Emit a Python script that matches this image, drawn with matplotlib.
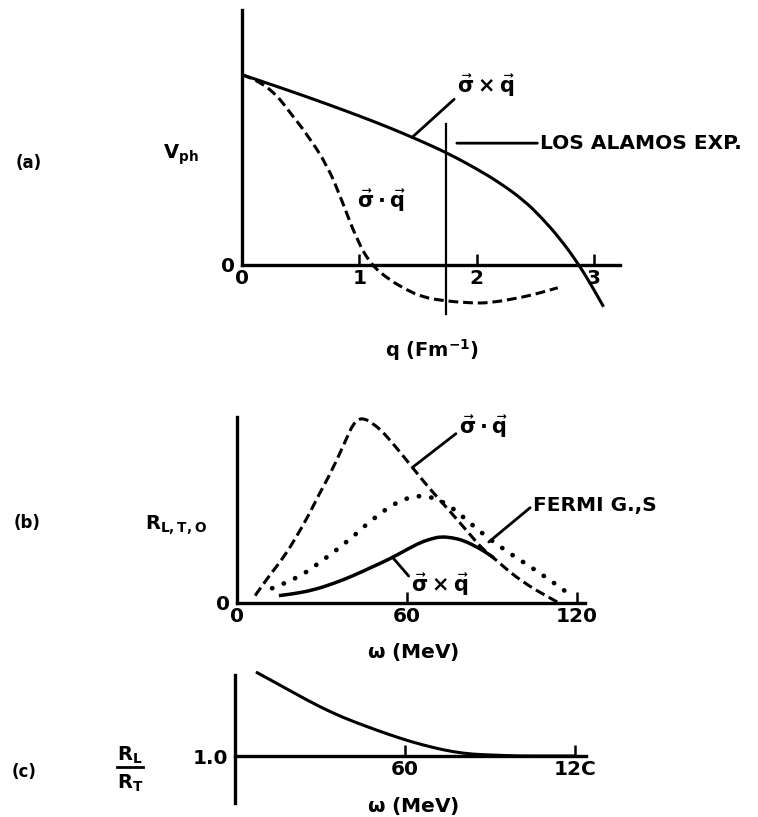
import numpy as np
import matplotlib
matplotlib.use("Agg")
import matplotlib.pyplot as plt
from matplotlib.path import Path
from matplotlib.patches import PathPatch

plt.rcParams['font.family'] = ['DejaVu Sans']
plt.rcParams['font.weight'] = 'bold'
plt.rcParams['mathtext.fontset'] = 'dejavusans'
plt.rcParams['mathtext.default'] = 'bf'

# (a) phase velocity vs momentum transfer
q_tick_labels = ['0', '1', '2', '3']
q_cross = [0.0, 0.25, 0.5, 0.75, 1.0, 1.25, 1.5, 1.75, 2.0, 2.2, 2.4, 2.55, 2.7, 2.85, 2.97, 3.08]
v_cross = [1.0, 0.948, 0.895, 0.84, 0.783, 0.723, 0.658, 0.588, 0.505, 0.43, 0.34, 0.25,
           0.145, 0.02, -0.1, -0.22]
q_dot = [0.0, 0.16, 0.3, 0.41, 0.55, 0.73, 0.85, 0.98, 1.1, 1.26, 1.4, 1.54, 1.74,
         1.95, 2.11, 2.39, 2.55, 2.69]
v_dot = [1.0, 0.96, 0.89, 0.80, 0.69, 0.52, 0.34, 0.13, 0.0, -0.08, -0.13, -0.17, -0.19,
         -0.2, -0.2, -0.17, -0.145, -0.12]
los_alamos_q = 1.74

# (b) response functions vs energy transfer
w_tick_labels = ['0', '60', '120']
w_dot = [6.4, 11, 16.6, 21, 25.1, 29, 33.6, 38.9, 41, 43.1, 45, 47, 50.9, 56, 61.8, 67,
         72.8, 78, 83, 87, 91.9, 97, 103.5, 108, 113.8]
r_dot = [0.04, 0.14, 0.25, 0.36, 0.47, 0.59, 0.72, 0.90, 0.97, 1.0, 1.0, 0.985, 0.94,
         0.85, 0.74, 0.64, 0.54, 0.45, 0.36, 0.29, 0.23, 0.16, 0.09, 0.05, 0.0]
w_fermi = [12.4, 21.9, 29.3, 39.6, 48.1, 57.6, 66, 74.6, 84.8, 94.3, 103.5, 113.8, 119]
r_fermi = [0.08, 0.14, 0.22, 0.34, 0.46, 0.56, 0.59, 0.54, 0.40, 0.29, 0.20, 0.09, 0.03]
w_cross = [14.8, 20, 26.9, 34, 40.6, 47, 54.1, 60, 65, 69, 72, 76, 80, 84, 87, 90.8]
r_cross = [0.04, 0.05, 0.07, 0.105, 0.145, 0.19, 0.24, 0.29, 0.33, 0.35, 0.36, 0.355,
           0.34, 0.31, 0.285, 0.245]

# (c) longitudinal / transverse ratio
w_ratio = [7.4, 15, 22, 29.7, 38, 46.6, 54, 62.2, 70, 77, 84, 92, 100, 110, 120]
ratio = [2.0, 1.86, 1.73, 1.59, 1.46, 1.35, 1.26, 1.17, 1.10, 1.05, 1.02, 1.01, 1.0, 1.0, 1.0]

W, H = 758, 817
fig = plt.figure(figsize=(W / 100, H / 100), dpi=100)


def px_axes(x0, y0, x1, y1):
    # axes box given in pixel edges measured from the top-left corner
    return fig.add_axes([x0 / W, 1 - y1 / H, (x1 - x0) / W, (y1 - y0) / H])


def ftext(x, y, s, **kw):
    fig.text(x / W, 1 - y / H, s, ha='center', va='center', **kw)


def smooth_line(ax, x, y, **kw):
    # quadratic bezier through the segment midpoints, so the corners get rounded
    pts = np.column_stack([x, y]).astype(float)
    mids = (pts[:-1] + pts[1:]) / 2
    verts = [pts[0], mids[0]]
    codes = [Path.MOVETO, Path.LINETO]
    for i in range(1, len(pts) - 1):
        verts += [pts[i], mids[i]]
        codes += [Path.CURVE3, Path.CURVE3]
    verts.append(pts[-1])
    codes.append(Path.LINETO)
    kw.setdefault('capstyle', 'butt')
    ax.add_patch(PathPatch(Path(verts, codes), fill=False, edgecolor='black', **kw))


def style_axes(ax):
    for side in ('top', 'right'):
        ax.spines[side].set_visible(False)
    for side in ('left', 'bottom'):
        ax.spines[side].set_linewidth(2.4)
    ax.tick_params(axis='x', direction='in', length=8, width=1.8, pad=3, labelsize=14.5)
    ax.tick_params(axis='y', length=0, pad=5, labelsize=14.5)
    ax.patch.set_visible(False)


LW = 2.2
dash = (0, (3.2, 1.6))
leader = dict(arrowstyle='-', lw=2.0, color='black', shrinkA=0, shrinkB=0)

# ---- panel (a)
ax1 = px_axes(242, 10, 620, 322)
ax1.set_xlim(0, 3.22)
ax1.set_ylim(-0.3, 1.34)
style_axes(ax1)
ax1.spines['bottom'].set_position(('data', 0))
ax1.spines['left'].set_bounds(0, 1.34)
ax1.set_xticks(range(len(q_tick_labels)))
ax1.set_xticklabels(q_tick_labels)
ax1.set_yticks([0])
ax1.set_yticklabels(['0'])
smooth_line(ax1, q_cross, v_cross, lw=LW, clip_on=False)
smooth_line(ax1, q_dot, v_dot, lw=LW, linestyle=dash)
ax1.plot([los_alamos_q, los_alamos_q], [-0.26, 0.74], color='black', lw=1.6)
ax1.annotate('LOS ALAMOS EXP.', xy=(los_alamos_q + 0.09, 0.64), xytext=(2.54, 0.64),
             va='center', ha='left', fontsize=14.5, arrowprops=leader,
             annotation_clip=False)
ax1.annotate(r'$\vec{\sigma}\times\vec{q}$', xy=(1.45, np.interp(1.45, q_cross, v_cross)),
             xytext=(2.08, 0.94), ha='center', va='center', fontsize=15,
             arrowprops=dict(leader, relpos=(0.0, 0.1)))
ax1.text(1.19, 0.34, r'$\vec{\sigma}\cdot\vec{q}$', ha='center', va='center', fontsize=15)

ftext(29, 163, '(a)', fontsize=12)
ftext(181, 155, r'V$_{\mathbf{ph}}$', fontsize=14)
ftext(432, 350, r'q (Fm$^{\mathbf{-1}}$)', fontsize=14)

# ---- panel (b)
ax2 = px_axes(237, 417, 585, 603)
ax2.set_xlim(0, 123)
ax2.set_ylim(0, 1.01)
style_axes(ax2)
ax2.set_xticks([0, 60, 120])
ax2.set_xticklabels(w_tick_labels)
ax2.set_yticks([0])
ax2.set_yticklabels(['0'])
smooth_line(ax2, w_dot, r_dot, lw=LW, linestyle=dash)
smooth_line(ax2, w_fermi, r_fermi, lw=3.4, linestyle=(0, (0.05, 2.6)), capstyle='round')
smooth_line(ax2, w_cross, r_cross, lw=LW + 0.3)
ax2.annotate(r'$\vec{\sigma}\cdot\vec{q}$', xy=(62, np.interp(62, w_dot, r_dot)),
             xytext=(87, 0.96), ha='center', va='center', fontsize=15,
             arrowprops=dict(leader, relpos=(0.0, 0.3)), annotation_clip=False)
ax2.annotate('FERMI G.,S', xy=(89, np.interp(89, w_fermi, r_fermi) - 0.02),
             xytext=(104.6, 0.53), ha='left', va='center', fontsize=14.5,
             arrowprops=dict(leader, relpos=(0.0, 0.5)), annotation_clip=False)
ax2.annotate(r'$\vec{\sigma}\times\vec{q}$', xy=(55, np.interp(55, w_cross, r_cross)),
             xytext=(72, 0.10), ha='center', va='center', fontsize=15,
             arrowprops=dict(leader, relpos=(0.0, 0.7)))
ftext(27, 523, '(b)', fontsize=12)
ftext(176, 525, r'R$_{\mathbf{L,T,O}}$', fontsize=14)
ftext(413, 652, r'$\omega$ (MeV)', fontsize=14.5)

# ---- panel (c)
ax3 = px_axes(235, 670, 586, 803)
ax3.set_xlim(0, 124)
ax3.set_ylim(1 - 47 / 84, 1 + 86 / 84)
style_axes(ax3)
ax3.spines['bottom'].set_position(('data', 1.0))
ax3.spines['left'].set_bounds(1 - 47 / 84, 1 + 81 / 84)
ax3.set_xticks([60, 120])
ax3.set_xticklabels(['60', '12C'])
ax3.set_yticks([1.0])
ax3.set_yticklabels(['1.0'])
smooth_line(ax3, w_ratio, ratio, lw=LW)
ftext(24, 772, '(c)', fontsize=12)
ftext(130, 755, r'R$_{\mathbf{L}}$', fontsize=14)
ftext(130, 783, r'R$_{\mathbf{T}}$', fontsize=14)
fig.add_artist(plt.Line2D([117 / W, 143 / W], [1 - 767 / H, 1 - 767 / H],
                          color='black', lw=2.0))
ftext(413, 806, r'$\omega$ (MeV)', fontsize=14.5)

fig.savefig('out.png', dpi=100, facecolor='white')
